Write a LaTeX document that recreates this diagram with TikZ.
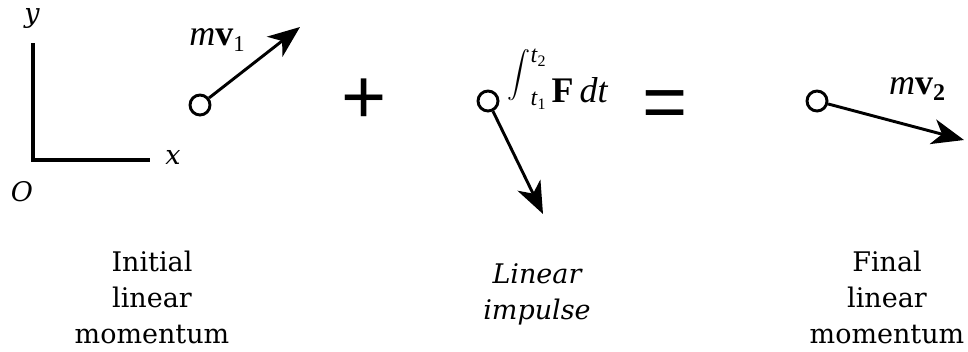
\documentclass[tikz,border=0pt]{standalone}
\usepackage{amsmath}
\usepackage{fontspec}
\usepackage{tikz}
\usetikzlibrary{arrows.meta, positioning}
\setmainfont{DejaVu Serif}
\newfontfamily\signfont{Liberation Sans}
\newfontfamily\symfont{Liberation Serif}

\begin{document}
\begin{tikzpicture}[
          x=0.75pt, y=-0.75pt,
          particle/.style={circle, draw, line width=2.2pt, minimum size=15pt, inner sep=0pt},
          arr/.style={-{Stealth[length=24pt, width=19pt, inset=7pt]}, line width=2.2pt},
          axis/.style={line width=2.4pt},
          caption/.style={align=center, font=\fontsize{20.25}{27}\selectfont},
          axlabel/.style={font=\fontsize{20.25}{27}\selectfont\itshape},
          vlabel/.style={font=\symfont\fontsize{27}{30}\selectfont, inner sep=0pt},
          sign/.style={font=\signfont\fontsize{58}{60}\selectfont, inner sep=0pt}
        ]
          \useasboundingbox (0,0) rectangle (968,351);

          % axes
          \coordinate (orig) at (33,160);
          \coordinate (ytip) at (33,43);
          \coordinate (xtip) at (150,160);
          \draw[axis] (ytip) -- (orig) -- (xtip);
          \node[axlabel] (ylab) at (32,18) {y};
          \node[axlabel] (xlab) at (173,157) {x};
          \node[axlabel] (olab) at (22,192) {O};

          % initial momentum
          \node[particle] (p1) at (200,105) {};
          \coordinate (t1) at (300,27);
          \draw[arr] (p1) -- (t1);
          \node[vlabel] (mv1) at (217,40) {\textit{m}\textbf{v}\raisebox{-5pt}{\fontsize{17}{17}\selectfont 1}};

          \node[sign] (plus) at (364,101) {+};

          % impulse
          \node[particle] (p2) at (488,101) {};
          \coordinate (t2) at (543,214);
          \draw[arr] (p2) -- (t2);
          \node[vlabel] (imp) at (558,79) {\raisebox{16pt}{\fontsize{17}{18}\selectfont$\displaystyle\int$}%
            \makebox[0pt][l]{\raisebox{30pt}{\fontsize{18}{18}\selectfont\textit{t}\raisebox{-3pt}{\fontsize{12}{12}\selectfont 2}}}%
            \raisebox{-2pt}{\fontsize{18}{18}\selectfont\textit{t}\raisebox{-3pt}{\fontsize{12}{12}\selectfont 1}}%
            \,\textbf{F}\,\textit{dt}};

          \node[sign] (equal) at (665,110) {=};

          % final momentum
          \node[particle] (p3) at (817,101) {};
          \coordinate (t3) at (964,140);
          \draw[arr] (p3) -- (t3);
          \node[vlabel] (mv2) at (917,89) {\textit{m}\textbf{v}\raisebox{-5pt}{\fontsize{18}{18}\selectfont\bfseries 2}};

          \node[caption] (init) at (152,297) {Initial\\linear\\momentum};
          \node[caption, font=\fontsize{20.25}{27}\selectfont\itshape] (impl) at (537,294) {Linear\\impulse};
          \node[caption] (final) at (887,297) {Final\\linear\\momentum};
        \end{tikzpicture}
\end{document}
